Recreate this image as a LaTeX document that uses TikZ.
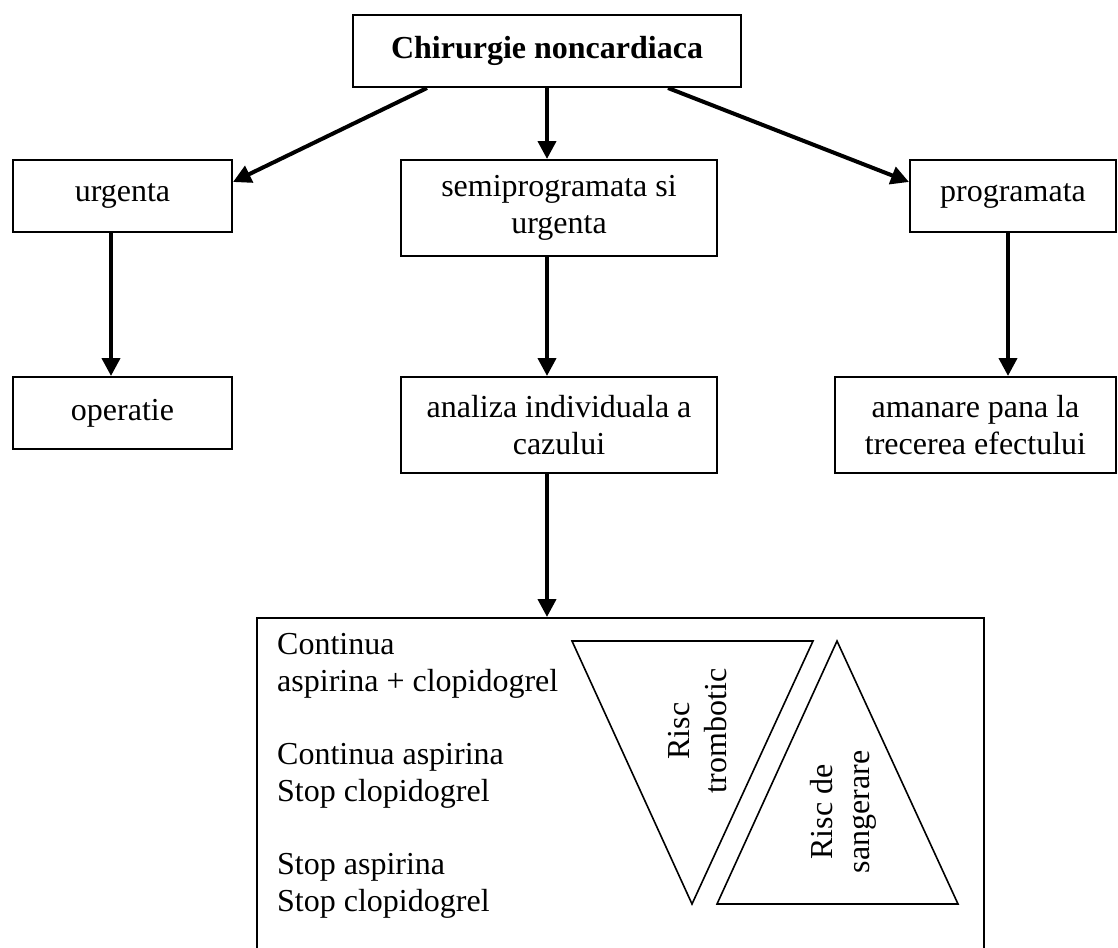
\documentclass[tikz,border=0pt]{standalone}
\usepackage{fontspec}
\setmainfont{Liberation Serif}
\usetikzlibrary{arrows.meta,positioning,calc}

\begin{document}
\begin{tikzpicture}[x=1pt, y=-1pt, font=\fontsize{32}{37}\selectfont]
    \tikzset{
      box/.style={draw, line width=2pt, inner sep=0pt, align=center},
      arr/.style={line width=4pt, -{Triangle[length=18pt,width=18pt]}},
      tri/.style={draw, line width=1.6pt, line join=miter},
      vlab/.style={rotate=90, align=center, inner sep=0pt},
    }
    \useasboundingbox (0,0) rectangle (1118,947);

    \node[box, minimum width=388pt, minimum height=72pt, font=\fontsize{32}{37}\selectfont\bfseries] (chir) at (547,51) {Chirurgie noncardiaca};
    \node[box, minimum width=219pt, minimum height=72pt] (urg) at (122.5,196) {urgenta};
    \node[box, minimum width=316pt, minimum height=96pt] (semi) at (559,208) {semiprogramata si\\urgenta};
    \node[box, minimum width=206pt, minimum height=72pt] (prog) at (1013,196) {programata};
    \node[box, minimum width=219pt, minimum height=72pt] (oper) at (122.5,413) {operatie};
    \node[box, minimum width=316pt, minimum height=96pt] (anal) at (559,425) {analiza individuala a\\cazului};
    \node[box, minimum width=281pt, minimum height=96pt] (aman) at (975.5,425) {amanare pana la\\trecerea efectului};
    \node[box, minimum width=727pt, minimum height=345pt, anchor=north west] (plan) at (256,617) {};

    \node[anchor=north west, align=left, inner sep=0pt] (opt) at (277,633)
      {Continua\\aspirina + clopidogrel\\[36pt]Continua aspirina\\Stop clopidogrel\\[36pt]Stop aspirina\\Stop clopidogrel};

    % triunghiurile de risc
    \draw[tri] (572,641) -- (813,641) -- (692,904) -- cycle;
    \draw[tri] (837,641) -- (958,904) -- (717,904) -- cycle;
    \node[vlab] (trom) at (698,731) {Risc\\trombotic};
    \node[vlab] (sang) at (843,812) {Risc de\\sangerare};

    \draw[arr] ([xshift=-120pt]chir.south) -- ([yshift=14pt]urg.east);
    \draw[arr] (chir.south) -- (chir.south |- semi.north);
    \draw[arr] ([xshift=121pt]chir.south) -- ([yshift=14pt]prog.west);
    \draw[arr] ([xshift=-11.5pt]urg.south) -- ([xshift=-11.5pt]oper.north);
    \draw[arr] ([xshift=-12pt]semi.south) -- ([xshift=-12pt]anal.north);
    \draw[arr] ([xshift=-5pt]prog.south) -- ([xshift=-5pt]prog.south |- aman.north);
    \draw[arr] ([xshift=-12pt]anal.south) -- ([xshift=-12pt]anal.south |- plan.north);
\end{tikzpicture}
\end{document}
